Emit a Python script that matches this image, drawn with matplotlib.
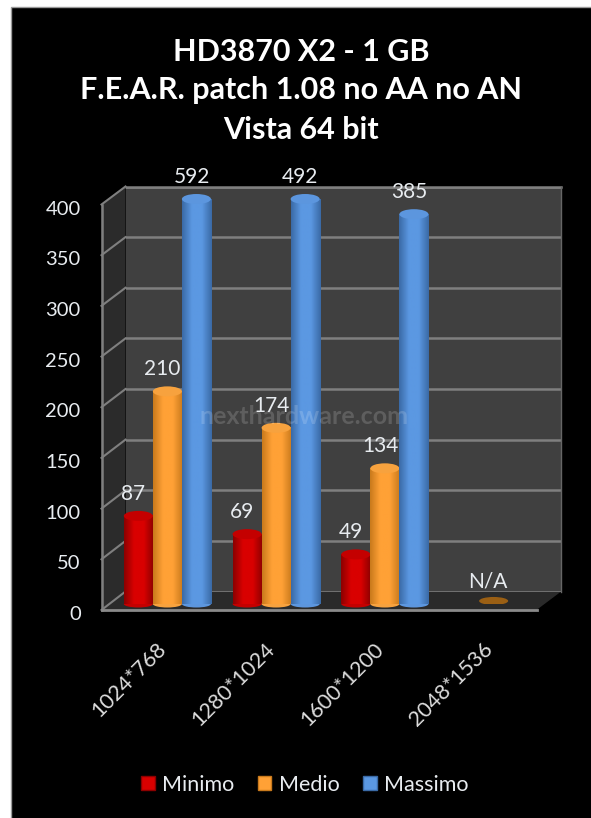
"""
HD3870 X2 F.E.A.R. chart, fake 3D cylinders like the Excel original
"""

import matplotlib
matplotlib.use('Agg')
import matplotlib.pyplot as plt
import numpy as np
from matplotlib.colors import LinearSegmentedColormap
from matplotlib.lines import Line2D
from matplotlib.patches import Ellipse, Patch, Polygon, Rectangle
from matplotlib.transforms import ScaledTranslation

plt.rcParams['font.family'] = ['Lato', 'DejaVu Sans']

W, H = 591, 818

TITLE = ["HD3870 X2 - 1 GB", "F.E.A.R. patch 1.08 no AA no AN", "Vista 64 bit"]
CATEGORIES = ["1024*768", "1280*1024", "1600*1200", "2048*1536"]
MINIMO = [87, 69, 49, np.nan]
MEDIO = [210, 174, 134, np.nan]
MASSIMO = [592, 492, 385, np.nan]
YTICKS = [0, 50, 100, 150, 200, 250, 300, 350, 400]
YMAX = 400

SERIES = [
    ("Minimo", MINIMO, '#8c0000', '#d90000', '#c40000', -1),
    ("Medio", MEDIO, '#c97a1c', '#ffa136', '#f7a23e', 0),
    ("Massimo", MASSIMO, '#3a6aa6', '#5b98e2', '#5c96de', 1),
]
BAR_W = 0.267
TEXT_COL = '#e8ecf0'


def px_box(x0, y_top, x1, y_bottom):
    """Axes rectangle from picture pixels"""
    return [x0 / W, 1 - y_bottom / H, (x1 - x0) / W, (y_bottom - y_top) / H]


def px(x, y):
    return x / W, 1 - y / H


fig = plt.figure(figsize=(W / 100, H / 100), dpi=100, facecolor='white')

# black panel, open on the right and bottom
fig.add_artist(Rectangle((11 / W, -0.1), 1, 1.1 - 7 / H, transform=fig.transFigure, zorder=0,
                         facecolor='black', edgecolor='#9a9a9a', linewidth=1))

# back wall
back = fig.add_axes(px_box(125.5, 186.5, 560.5, 591.5), facecolor='#404040', zorder=1)
back.set_xlim(0, 1)
back.set_ylim(0, YMAX)
back.set_xticks([])
back.set_yticks(YTICKS)
back.tick_params(left=False, labelleft=False)
back.grid(axis='y', color='#7f7f7f', linewidth=1.8)
back.set_axisbelow(True)
for name, sp in back.spines.items():
    sp.set_visible(False)
back.plot([0, 1], [YMAX, YMAX], color='#7f7f7f', linewidth=1.8, clip_on=False)
back.plot([1, 1], [0, YMAX], color='#666666', linewidth=1, clip_on=False)

# side wall and floor
fig.add_artist(Polygon([px(101.5, 204.5), px(125.5, 186.5), px(125.5, 591.5), px(101.5, 610)],
                       transform=fig.transFigure, facecolor='#2b2b2b', edgecolor='none', zorder=2))
fig.add_artist(Polygon([px(101.5, 610), px(125.5, 592), px(560.5, 592), px(536.5, 610)],
                       transform=fig.transFigure, facecolor='#2a2a2a', edgecolor='none', zorder=2))
for v in YTICKS:
    y_front = 610 - v * 405.5 / YMAX
    y_back = 591.5 - v * 405 / YMAX
    fig.add_artist(Line2D(*zip(px(101.5, y_front), px(125.5, y_back)), zorder=2.5,
                          transform=fig.transFigure, color='#7f7f7f', linewidth=1.5))
fig.add_artist(Line2D(*zip(px(101.5, 204.5), px(101.5, 610)), zorder=2.5,
                      transform=fig.transFigure, color='#7f7f7f', linewidth=1.8))
fig.add_artist(Line2D(*zip(px(101.5, 610), px(536.5, 610)), zorder=2.5,
                      transform=fig.transFigure, color='#8a8a8a', linewidth=2))

# front plane, holds the axis labels
front = fig.add_axes(px_box(101.5, 205, 536.5, 610), facecolor='none', zorder=3)
front.set_xlim(-0.5, 3.5)
front.set_ylim(0, YMAX)
front.set_yticks(YTICKS)
front.set_yticklabels([str(v) for v in YTICKS], color=TEXT_COL, fontsize=14.5)
front.set_xticks(range(len(CATEGORIES)))
front.set_xticklabels(CATEGORIES, rotation=45, ha='right', rotation_mode='anchor',
                      color='#dcdcdc', fontsize=15.5)
front.tick_params(axis='y', length=0, pad=15)
front.tick_params(axis='x', length=0, pad=21)
label_shift = ScaledTranslation(0, -2 / 72, fig.dpi_scale_trans)
for lab in front.get_yticklabels():
    lab.set_transform(lab.get_transform() + label_shift)
for sp in front.spines.values():
    sp.set_visible(False)

# plane of the bars
ax = fig.add_axes(px_box(113, 199, 548, 604), facecolor='none', zorder=4)
ax.axis('off')
cap_h = 10 * YMAX / 405

for name, values, edge, mid, cap, offset in SERIES:
    cmap = LinearSegmentedColormap.from_list(name, [edge, mid, mid, edge])
    grad = np.linspace(0, 1, 64).reshape(1, -1)
    for i, val in enumerate(values):
        if np.isnan(val):
            continue
        top = min(val, YMAX)
        x0 = i + offset * 0.267 - BAR_W / 2
        x1 = x0 + BAR_W
        z = 3 + offset
        ax.add_patch(Ellipse((i + offset * 0.267, 0), BAR_W, cap_h * 0.7, facecolor=cap,
                             edgecolor='none', zorder=z, clip_on=False))
        ax.imshow(grad, extent=(x0, x1, 0, top), cmap=cmap, aspect='auto', zorder=z,
                  interpolation='bilinear')
        ax.add_patch(Ellipse((i + offset * 0.267, top), BAR_W, cap_h, facecolor=cap,
                             edgecolor='none', zorder=z, clip_on=False))
        ax.annotate(str(val), (i + offset * 0.267, top), xytext=(-3.5, 16),
                    textcoords='offset points', ha='center', va='center',
                    color=TEXT_COL, fontsize=15, zorder=8)

# no result for the last resolution: only a flat disc
ax.add_patch(Ellipse((3, 3), BAR_W, cap_h * 0.8, facecolor='#9a5f14', edgecolor='none', zorder=4))
ax.annotate("N/A", (3, 3), xytext=(-4.5, 14), textcoords='offset points', ha='center',
            va='center', color=TEXT_COL, fontsize=15, zorder=8)
ax.set_xlim(-0.5, 3.5)
ax.set_ylim(0, YMAX)

# title
for line, y in zip(TITLE, [52, 90, 130]):
    fig.text(*px(301, y), line, color='white', fontsize=22, fontweight='bold',
             ha='center', va='center')

# watermark
fig.text(*px(304, 416), "nexthardware.com", color='white', alpha=0.16, fontsize=18,
         fontweight='bold', ha='center', va='center', zorder=10)

# legend
handles = [Patch(facecolor=s[3], edgecolor=s[2], label=s[0]) for s in SERIES]
fig.legend(handles=handles, loc='center', bbox_to_anchor=px(305, 785), ncol=3, frameon=False,
           labelcolor=TEXT_COL, fontsize=15.5, handlelength=0.62, handleheight=0.62,
           handletextpad=0.35, columnspacing=1.1)

fig.savefig('out.png', dpi=100, facecolor=fig.get_facecolor())
